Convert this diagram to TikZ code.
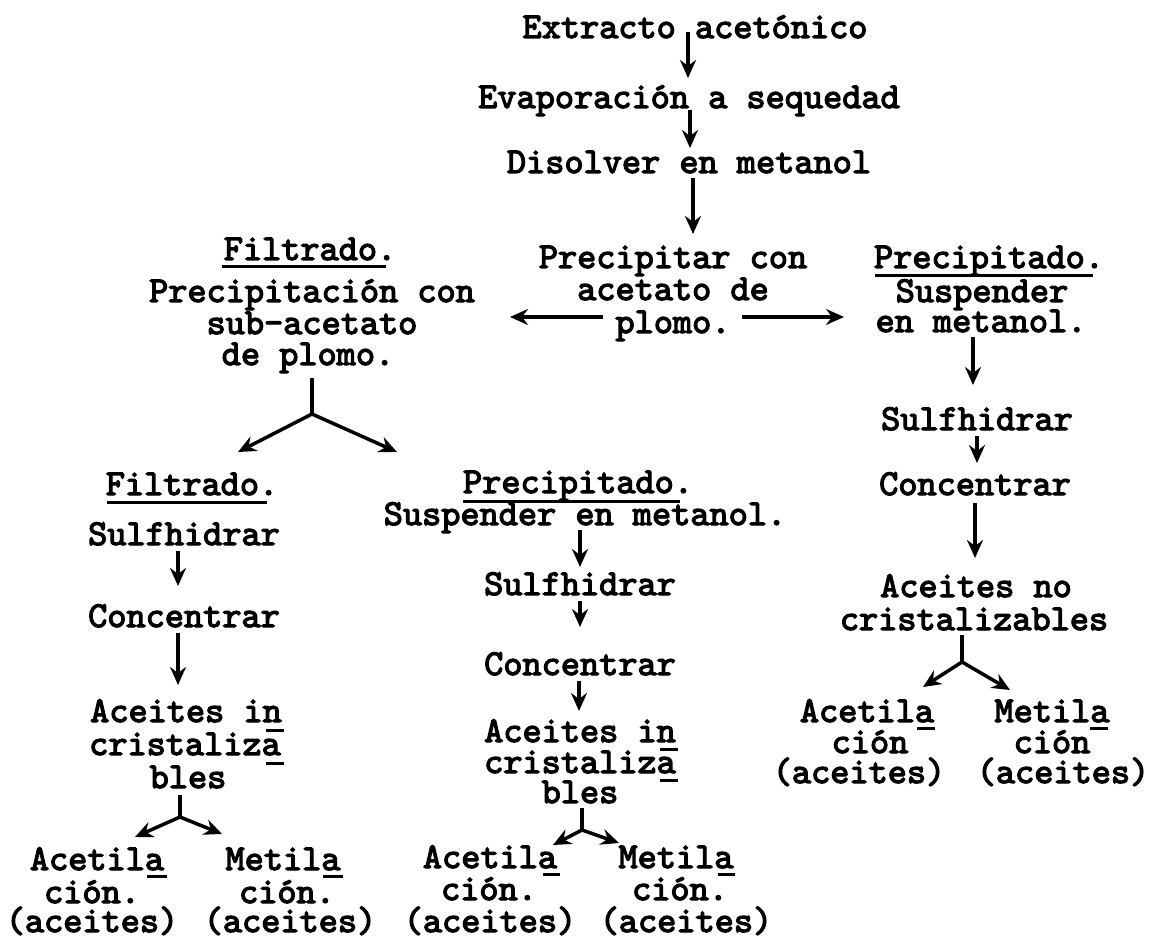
\documentclass[tikz,border=0pt]{standalone}
\usepackage{fontspec}
\usetikzlibrary{arrows.meta}
% typewriter-like face used for every label (emboldened mono)
\newfontfamily\twfam{lmmono10-regular.otf}[FakeBold=3.4]
\newcommand\twfont{\fontsize{36.5pt}{36pt}\selectfont\twfam}
\begin{document}
\begin{tikzpicture}[x=1pt,y=-1pt,
  txt/.style={inner sep=0pt, anchor=base, font=\twfont},
  flow/.style={line width=3.5pt, -{Stealth[length=18pt,width=16pt,inset=6pt]}},
  stemline/.style={line width=3.5pt},
  ul/.style={line width=3pt}]
\fill[white] (0,0) rectangle (1152,941);
\useasboundingbox (0,0) rectangle (1152,941);

% ---------- main trunk ----------
\node[txt] (ext)  at (695,38)  {Extracto acetónico};
\node[txt] (evap) at (689,108) {Evaporación a sequedad};
\node[txt] (dis)  at (689,173) {Disolver en metanol};
\coordinate (a1s) at (688,32);  \coordinate (a1e) at (688,78);
\coordinate (a2s) at (690,110); \coordinate (a2e) at (690,148);
\coordinate (a3s) at (693,178); \coordinate (a3e) at (693,234);
\draw[flow] (a1s) -- (a1e);
\draw[flow] (a2s) -- (a2e);
\draw[flow] (a3s) -- (a3e);

% ---------- lead acetate precipitation ----------
\node[txt] (pc1) at (673,268) {Precipitar con};
\node[txt] (pc2) at (673,300) {acetato de};
\node[txt] (pc3) at (673,333) {plomo.};
\coordinate (lls) at (603,317); \coordinate (lle) at (510,317);
\coordinate (rrs) at (742,317); \coordinate (rre) at (844,317);
\draw[flow] (lls) -- (lle);
\draw[flow] (rrs) -- (rre);

% ---------- filtrate branch ----------
\node[txt] (lf1) at (310,260) {Filtrado.};
\draw[ul] (222,267) -- (386,267);
\node[txt] (lf2) at (312,302) {Precipitación con};
\node[txt] (lf3) at (312,334) {sub-acetato};
\node[txt] (lf4) at (308,365) {de plomo.};
\coordinate (ly0) at (312,378); \coordinate (ly1) at (312,414);
\coordinate (lyl) at (238,452); \coordinate (lyr) at (397,452);
\draw[stemline] (ly0) -- (ly1);
\draw[flow] (ly1) -- (lyl);
\draw[flow] (ly1) -- (lyr);

% ---------- left column ----------
\node[txt] (l1) at (192,495) {Filtrado.};
\draw[ul] (107,502) -- (267,502);
\node[txt] (l2) at (184,545) {Sulfhidrar};
\node[txt] (l3) at (184,627) {Concentrar};
\node[txt] (l4) at (186,722) {Aceites in};
\draw[ul] (266,730) -- (284,730);
\node[txt] (l5) at (185,755) {cristaliza};
\draw[ul] (266,763) -- (284,763);
\node[txt] (l6) at (188,788) {bles};
\coordinate (la1s) at (178,551); \coordinate (la1e) at (178,586);
\coordinate (la2s) at (178,633); \coordinate (la2e) at (178,685);
\draw[flow] (la1s) -- (la1e);
\draw[flow] (la2s) -- (la2e);
\coordinate (lb0) at (180,795); \coordinate (lb1) at (180,817);
\coordinate (lbl) at (135,837); \coordinate (lbr) at (222,834);
\draw[stemline] (lb0) -- (lb1);
\draw[flow] (lb1) -- (lbl);
\draw[flow] (lb1) -- (lbr);
\node[txt] (l7)  at (97,870)  {Acetila};
\draw[ul] (147,876) -- (167,876);
\node[txt] (l8)  at (92,903)  {ción.};
\node[txt] (l9)  at (92,932)  {(aceites)};
\node[txt] (l10) at (283,870) {Metila};
\draw[ul] (323,876) -- (343,876);
\node[txt] (l11) at (287,903) {ción.};
\node[txt] (l12) at (290,932) {(aceites)};

% ---------- middle column ----------
\node[txt] (m1) at (578,493) {Precipitado.};
\draw[ul] (463,501) -- (680,501);
\node[txt] (m2) at (585,525) {Suspender en metanol.};
\node[txt] (m3) at (580,595) {Sulfhidrar};
\node[txt] (m4) at (580,675) {Concentrar};
\node[txt] (m5) at (580,742) {Aceites in};
\draw[ul] (660,749) -- (678,749);
\node[txt] (m6) at (580,773) {cristaliza};
\draw[ul] (660,780) -- (678,780);
\node[txt] (m7) at (580,803) {bles};
\coordinate (ma1s) at (580,530); \coordinate (ma1e) at (580,567);
\coordinate (ma2s) at (580,601); \coordinate (ma2e) at (580,627);
\coordinate (ma3s) at (579,681); \coordinate (ma3e) at (579,711);
\draw[flow] (ma1s) -- (ma1e);
\draw[flow] (ma2s) -- (ma2e);
\draw[flow] (ma3s) -- (ma3e);
\coordinate (mb0) at (582,808); \coordinate (mb1) at (582,830);
\coordinate (mbl) at (553,845); \coordinate (mbr) at (619,843);
\draw[stemline] (mb0) -- (mb1);
\draw[flow] (mb1) -- (mbl);
\draw[flow] (mb1) -- (mbr);
\node[txt] (m8)  at (490,868) {Acetila};
\draw[ul] (543,874) -- (560,874);
\node[txt] (m9)  at (489,900) {ción.};
\node[txt] (m10) at (490,932) {(aceites)};
\node[txt] (m11) at (676,868) {Metila};
\draw[ul] (718,874) -- (735,874);
\node[txt] (m12) at (680,900) {ción.};
\node[txt] (m13) at (686,932) {(aceites)};

% ---------- right column ----------
\node[txt] (r1) at (989,268) {Precipitado.};
\draw[ul] (875,276) -- (1093,276);
\node[txt] (r2) at (982,302) {Suspender};
\node[txt] (r3) at (981,332) {en metanol.};
\node[txt] (r4) at (977,430) {Sulfhidrar};
\node[txt] (r5) at (975,495) {Concentrar};
\node[txt] (r6) at (976,597) {Aceites no};
\node[txt] (r7) at (974,630) {cristalizables};
\coordinate (ra1s) at (973,337); \coordinate (ra1e) at (973,385);
\coordinate (ra2s) at (977,436); \coordinate (ra2e) at (977,463);
\coordinate (ra3s) at (975,503); \coordinate (ra3e) at (975,558);
\draw[flow] (ra1s) -- (ra1e);
\draw[flow] (ra2s) -- (ra2e);
\draw[flow] (ra3s) -- (ra3e);
\coordinate (rb0) at (962,635); \coordinate (rb1) at (962,662);
\coordinate (rbl) at (923,687); \coordinate (rbr) at (1010,690);
\draw[stemline] (rb0) -- (rb1);
\draw[flow] (rb1) -- (rbl);
\draw[flow] (rb1) -- (rbr);
\node[txt] (r8)  at (867,722)  {Acetila};
\draw[ul] (917,728) -- (935,728);
\node[txt] (r9)  at (870,753)  {ción};
\node[txt] (r10) at (859,783)  {(aceites)};
\node[txt] (r11) at (1052,722) {Metila};
\draw[ul] (1090,728) -- (1108,728);
\node[txt] (r12) at (1052,753) {ción};
\node[txt] (r13) at (1063,783) {(aceites)};
\end{tikzpicture}
\end{document}
